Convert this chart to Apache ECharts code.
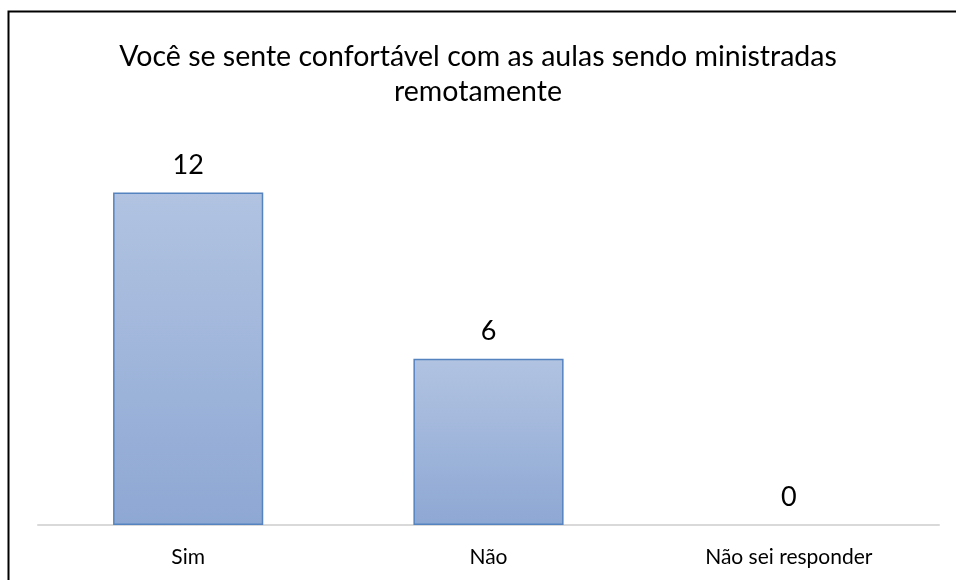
<!DOCTYPE html>
<html>
<head>
<meta charset="utf-8">
<script src="https://cdn.jsdelivr.net/npm/echarts@6/dist/echarts.min.js"></script>
<style>
  html, body { margin: 0; padding: 0; background: #fff; }
  #chart { width: 956px; height: 580px; }
</style>
</head>
<body>
<div id="chart"></div>
<script>
const categories = ['Sim', 'Não', 'Não sei responder']
const values = [12, 6, 0]
const titleText = 'Você se sente confortável com as aulas sendo ministradas\nremotamente'

const chart = echarts.init(document.getElementById('chart'))

// zero bars get no outline, like the original
const barData = values.map(v => (v === 0 ? { value: v, itemStyle: { borderWidth: 0 } } : v))

chart.setOption({
  animation: false,
  title: {
    text: titleText,
    left: 'center',
    top: 34,
    textStyle: {
      fontFamily: 'Lato',
      fontSize: 28.5,
      fontWeight: 'normal',
      color: '#000',
      lineHeight: 35
    }
  },
  // outer frame of the chart area
  graphic: [
    {
      type: 'polyline',
      shape: { points: [[8.5, 580], [8.5, 11.5], [958, 11.5]] },
      style: { stroke: '#000', lineWidth: 2, fill: null }
    }
  ],
  grid: {
    left: 38,
    right: 17,
    top: 137,
    bottom: 55
  },
  xAxis: {
    type: 'category',
    data: categories,
    axisTick: { show: false },
    axisLine: { lineStyle: { color: '#d9d9d9', width: 2 } },
    axisLabel: {
      fontFamily: 'Lato',
      fontSize: 21,
      color: '#000',
      margin: 22
    }
  },
  yAxis: {
    type: 'value',
    min: 0,
    max: 14,
    interval: 2,
    show: false,
    splitLine: { show: false }
  },
  series: [
    {
      type: 'bar',
      data: barData,
      barWidth: '50%',
      itemStyle: {
        color: new echarts.graphic.LinearGradient(0, 0, 0, 1, [
          { offset: 0, color: '#b1c3e1' },
          { offset: 1, color: '#8ea8d4' }
        ]),
        borderColor: '#5583c0',
        borderWidth: 1.5
      },
      label: {
        show: true,
        position: 'top',
        distance: 14,
        fontFamily: 'Lato',
        fontSize: 27,
        color: '#000'
      }
    }
  ]
})
</script>
</body>
</html>
